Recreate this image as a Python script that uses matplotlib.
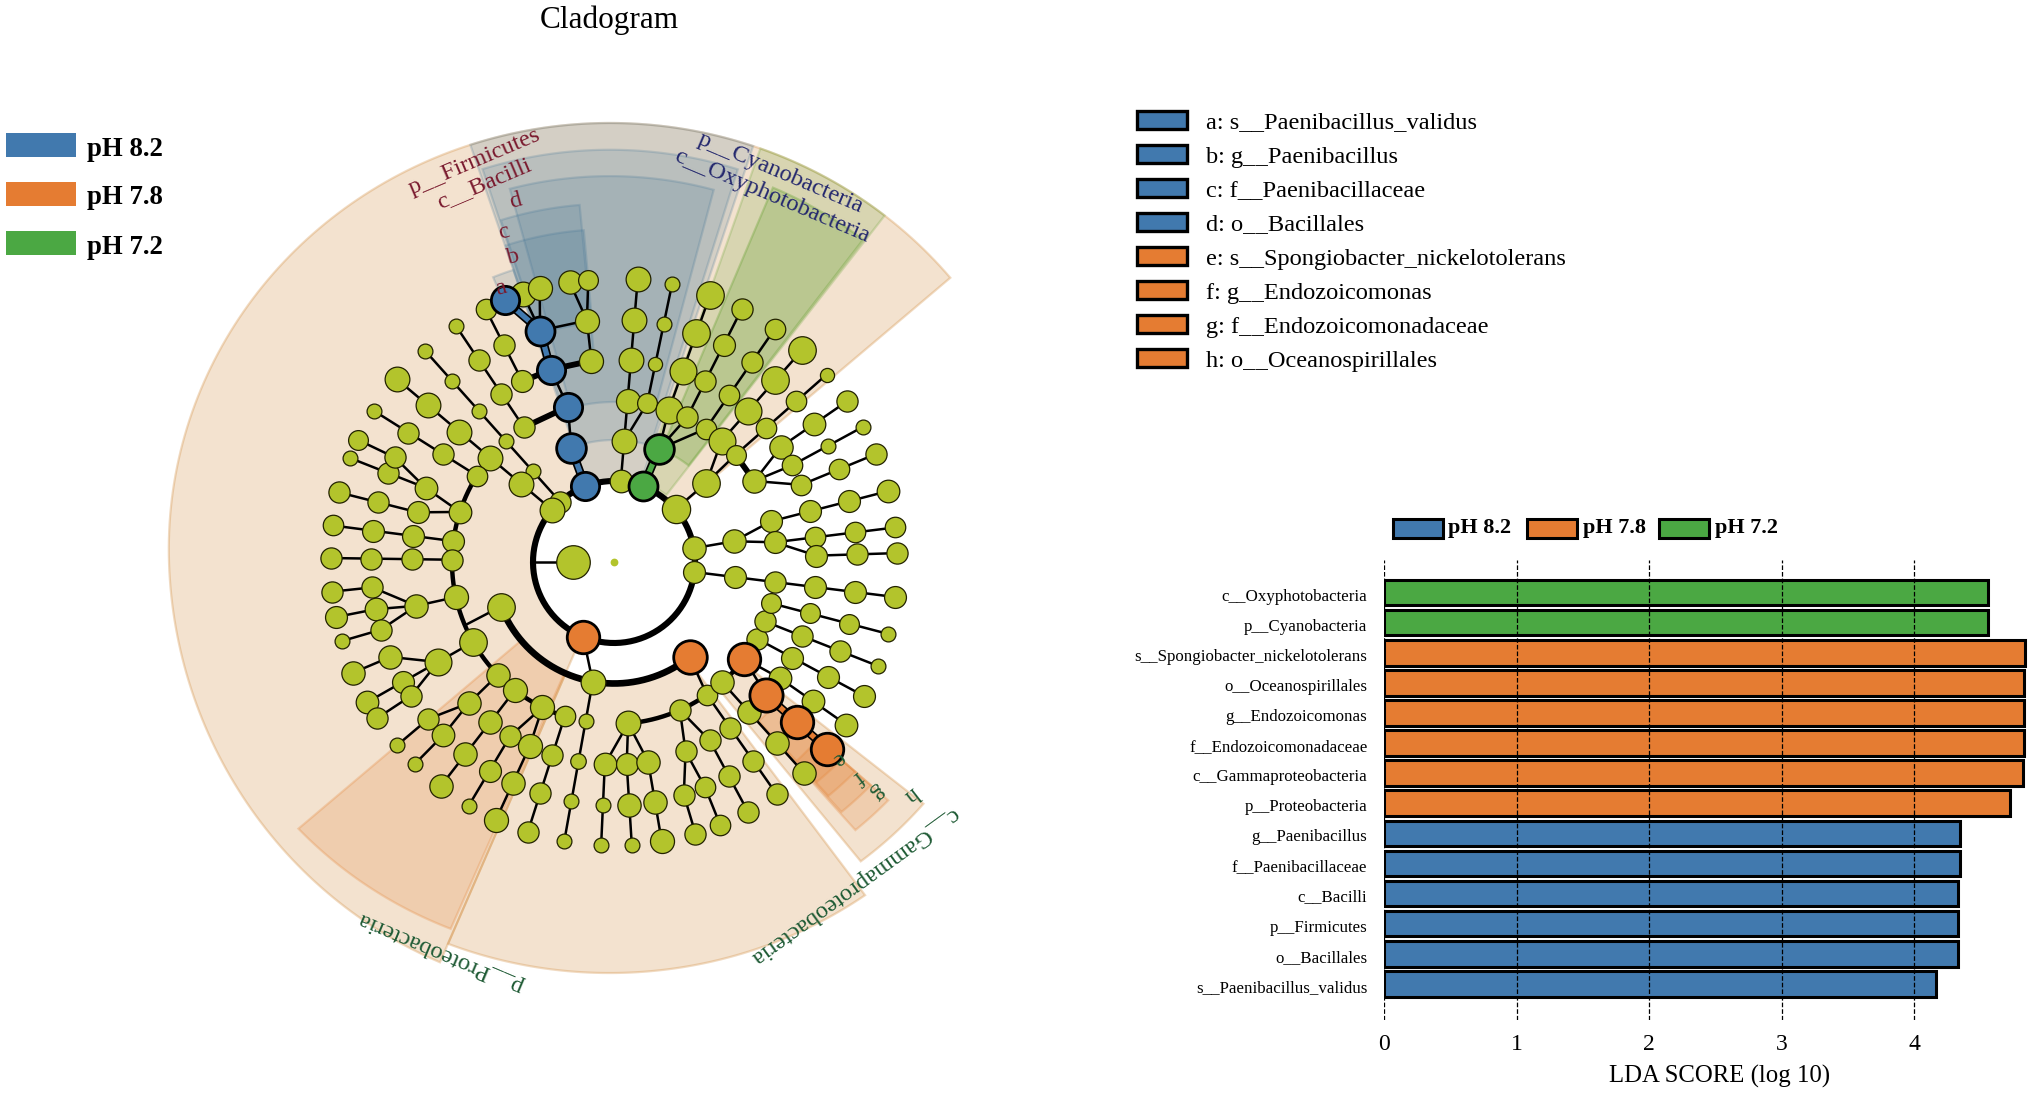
import numpy as np
import matplotlib
matplotlib.use("Agg")
import matplotlib.pyplot as plt
from matplotlib.patches import Polygon, Rectangle
from matplotlib.transforms import ScaledTranslation

plt.rcParams['font.family'] = ['Liberation Serif', 'DejaVu Serif']

BLUE = '#4179AE'
ORANGE = '#E57C32'
GREEN = '#4BA843'
NODE = '#B3C42C'
TAN = '#D38F43'
AMBER = '#E5863A'
SLATE = '#3F7396'

# lda bars, top to bottom
taxa = ['c__Oxyphotobacteria', 'p__Cyanobacteria', 's__Spongiobacter_nickelotolerans',
        'o__Oceanospirillales', 'g__Endozoicomonas', 'f__Endozoicomonadaceae',
        'c__Gammaproteobacteria', 'p__Proteobacteria', 'g__Paenibacillus',
        'f__Paenibacillaceae', 'c__Bacilli', 'p__Firmicutes', 'o__Bacillales',
        's__Paenibacillus_validus']
lda = [4.56, 4.56, 4.835, 4.826, 4.826, 4.826, 4.82, 4.727, 4.35, 4.35, 4.33, 4.33, 4.33, 4.166]
lda_group = [GREEN] * 2 + [ORANGE] * 6 + [BLUE] * 6

groups = ['pH 8.2', 'pH 7.8', 'pH 7.2']
group_colors = [BLUE, ORANGE, GREEN]

key_labels = ['a: s__Paenibacillus_validus', 'b: g__Paenibacillus', 'c: f__Paenibacillaceae',
              'd: o__Bacillales', 'e: s__Spongiobacter_nickelotolerans', 'f: g__Endozoicomonas',
              'g: f__Endozoicomonadaceae', 'h: o__Oceanospirillales']
key_colors = [BLUE] * 4 + [ORANGE] * 4

# spokes: angle, first level, abundance of each node going outwards, parent angle, parent level
top_spokes = [
    (85.2, 1, [64, 70, 68, 70, 70, 70], None, None),
    (78.2, 3, [56, 40, 42, 42], 85.2, 2),
    (70.2, 3, [76, 76, 78, 78], 68.3, 2),
    (63.2, 3, [60, 60, 62, 60], 68.3, 2),
    (55.4, 3, [58, 58, 60, 58], 68.3, 2),
    (48.4, 3, [76, 76, 78, 78], 40.6, 2),
    (41.4, 3, [56, 58, 58, 40], 40.6, 2),
    (40.6, 1, [80, 78], None, None),
    (96.4, 4, [68, 68], None, None),
    (99.0, 6, [66], 96.4, 5),
    (95.2, 6, [56], 96.4, 5),
    (108.8, 6, [70], 107.7, 5),
    (105.2, 6, [68], 107.7, 5),
    (116.9, 4, [62, 60, 58], None, None),
    (123.8, 3, [60, 60, 60, 42], None, None),
    (131.8, 1, [60, 42, 42, 42, 42, 42], None, None),
    (139.9, 1, [70, 70, 70, 70, 70, 70], None, None),
]
left_spokes = [
    (147.8, 3, [58, 60, 60, 42], None, None),
    (162.0, 3, [64], None, None),
    (158.5, 4, [64, 60, 42], 162.0, 3),
    (154.5, 5, [60, 56], 158.5, 4),
    (165.8, 4, [62, 60, 60], 162.0, 3),
    (172.6, 3, [62, 62, 62, 58], None, None),
    (179.2, 3, [60, 60, 60, 60], None, None),
    (192.5, 3, [68, 66], None, None),
    (186.0, 5, [60, 60], 192.5, 4),
    (191.2, 5, [64, 62], 192.5, 4),
    (196.2, 5, [60, 42], 192.5, 4),
    (201.5, 2, [78], None, None),
    (209.6, 3, [78, 76, 62, 64], None, None),
    (203.0, 5, [66, 66], 209.6, 4),
    (213.4, 5, [60, 60], 209.6, 4),
]
bottom_spokes = [
    (224.2, 3, [66, 66], None, None),
    (220.2, 5, [60, 42], 224.2, 4),
    (225.4, 5, [64, 42], 224.2, 4),
    (232.3, 3, [68, 66, 66, 66], None, None),
    (243.8, 3, [68], None, None),
    (239.2, 4, [60, 62, 42], 243.8, 3),
    (245.4, 4, [68, 66, 68], 243.8, 3),
    (252.3, 3, [58, 60, 60, 60], None, None),
    (259.9, 2, [70, 42, 44, 42, 42], None, None),
    (275.0, 3, [70], None, None),
    (267.4, 4, [64, 42, 42], 275.0, 3),
    (273.6, 4, [62, 66, 42], 275.0, 3),
    (279.7, 4, [66, 66, 68], 275.0, 3),
]
right_spokes = [
    (294.0, 3, [60], None, None),
    (290.7, 4, [60], 294.0, 3),
    (292.0, 5, [58, 58], 290.7, 4),
    (286.7, 5, [60, 60], 290.7, 4),
    (298.2, 4, [60, 60, 60], 294.0, 3),
    (305.0, 3, [58, 60, 60, 60], 308.5, 2),
    (312.0, 3, [66, 66, 66, 66], None, None),
    (325.0, 4, [64, 64, 64], 323.4, 3),
    (331.8, 3, [60, 62, 62, 62], None, None),
    (338.5, 3, [60, 60, 60, 42], None, None),
    (345.3, 3, [56, 56, 56, 42], None, None),
    (352.9, 1, [62, 62, 60, 62, 62, 62], None, None),
    (9.8, 1, [66, 66], None, None),
    (14.5, 3, [62, 62, 62, 64], 9.8, 2),
    (7.0, 3, [62, 58, 58, 58], 9.8, 2),
    (1.8, 4, [62, 60, 60], 7.0, 3),
    (30.0, 3, [66], None, None),
    (34.6, 4, [66, 64, 60], 30.0, 3),
    (28.5, 4, [58, 42, 42], 30.0, 3),
    (22.4, 4, [58, 58, 60], 30.0, 3),
]

# biomarker nodes: angle, level, abundance
blue_nodes = [(110.8, 1, 80), (110.6, 2, 84), (106.5, 3, 80), (108.2, 4, 80), (107.7, 5, 82), (112.6, 6, 80)]
green_nodes = [(68.9, 1, 82), (68.3, 2, 84)]
orange_nodes = [(247.7, 1, 92), (308.5, 2, 95), (323.4, 3, 92), (318.8, 4, 94), (318.8, 5, 92), (318.8, 6, 92)]

# thick black links between nodes: angle a, level a, angle b, level b
thick_links = [(106.5, 3, 123.8, 3), (108.2, 4, 116.9, 4), (108.2, 4, 96.4, 4), (41.4, 3, 30.0, 3)]
thin_links = [(110.6, 2, 106.5, 3), (106.5, 3, 108.2, 4), (107.7, 5, 96.4, 5),
              (201.5, 2, 203.0, 3), (259.9, 2, 247.7, 1), (323.4, 3, 318.8, 4)]
# arcs: level, start angle, end angle
tree_arcs = [(1, 0, 360), (2, 201.5, 308.5), (3, 147.8, 252.3), (3, 275.0, 345.3)]

# shaded clades: start angle, end angle, outer fraction, inner radius, colour, alpha
clades = [
    (40.2, 246.5, 1.0, 81, TAN, 0.25),
    (246.5, 307.0, 1.0, 121, TAN, 0.25),
    (309.5, 322.0, 0.93, 165, TAN, 0.25),
    (220.2, 246.0, 0.965, 121, AMBER, 0.22),
    (312.0, 319.0, 0.865, 198, AMBER, 0.22),
    (312.3, 319.0, 0.812, 215, AMBER, 0.22),
    (312.5, 319.0, 0.764, 240, AMBER, 0.22),
    (312.7, 319.0, 0.722, 270, AMBER, 0.22),
    (71.5, 109.0, 1.0, 81, SLATE, 0.17),
    (72.5, 108.5, 0.937, 122, SLATE, 0.17),
    (75.0, 105.6, 0.875, 160, SLATE, 0.17),
    (95.5, 108.3, 0.81, 200, SLATE, 0.17),
    (95.2, 108.9, 0.75, 240, SLATE, 0.17),
    (109.0, 113.0, 0.69, 270, SLATE, 0.17),
    (52.0, 70.5, 1.0, 85, '#6FA53C', 0.2),
    (52.3, 67.0, 0.925, 122, '#6FA53C', 0.28),
]

# tree centre in pixels
CX, CY = 614, 562


def radius(level):
    if level == 0:
        return 41
    return 81 + 40.5 * (level - 1)


def pos(angle, level):
    r = radius(level)
    a = np.radians(angle)
    return CX + r * np.cos(a), CY - r * np.sin(a)


def outer(theta, frac, big):
    # the shaded outline is not quite concentric with the tree
    a = np.radians(theta)
    r = frac * (433 + 8 * np.cos(2 * a)) - 4 * np.cos(a) + 14 * np.sin(a)
    if big:
        r = r + 24 * np.where(np.sin(a) < 0, np.sin(a) ** 2, 0)
    return r


def node_size(abund):
    return (abund / 3 * 0.72 * 1.06) ** 2


fig = plt.figure(figsize=(20.32, 10.94), dpi=100)
ax = fig.add_axes([0, 0, 1, 1])
ax.set_xlim(0, 2032)
ax.set_ylim(1094, 0)
ax.axis('off')

for t1, t2, frac, r_in, col, alpha in clades:
    th = np.linspace(t1, t2, 200)
    a = np.radians(th)
    ro = outer(th, frac, t1 == 40.2)
    xs = np.r_[CX + ro * np.cos(a), CX + r_in * np.cos(a[::-1])]
    ys = np.r_[CY - ro * np.sin(a), CY - r_in * np.sin(a[::-1])]
    ax.add_patch(Polygon(np.c_[xs, ys], closed=True, facecolor=matplotlib.colors.to_rgba(col, alpha),
                         edgecolor=matplotlib.colors.to_rgba(col, alpha * 1.3), lw=1.6, zorder=1))

for level, t1, t2 in tree_arcs:
    th = np.radians(np.linspace(t1, t2, 300))
    r = radius(level)
    lw = {1: 4.4, 2: 4.8, 3: 3.2}[level]
    ax.plot(CX + r * np.cos(th), CY - r * np.sin(th), color='k', lw=lw, zorder=2, solid_capstyle='round')

for a1, l1, a2, l2 in thick_links:
    p, q = pos(a1, l1), pos(a2, l2)
    ax.plot([p[0], q[0]], [p[1], q[1]], color='k', lw=4.2, zorder=2)
for a1, l1, a2, l2 in thin_links:
    p, q = pos(a1, l1), pos(a2, l2)
    ax.plot([p[0], q[0]], [p[1], q[1]], color='k', lw=1.8, zorder=2)

# big node inside the ring and the root
p = pos(180, 0)
q = pos(180, 1)
ax.plot([p[0], q[0]], [p[1], q[1]], color='k', lw=1.8, zorder=2)
ax.scatter([p[0]], [p[1]], s=node_size(95), color=NODE, edgecolor='#222200', lw=0.9, zorder=4)
ax.scatter([CX], [CY], s=node_size(22), color=NODE, lw=0, zorder=4)

for spokes in [top_spokes, left_spokes, bottom_spokes, right_spokes]:
    for angle, first, sizes, p_angle, p_level in spokes:
        pts = [pos(angle, first + i) for i in range(len(sizes))]
        if p_angle is not None:
            pts = [pos(p_angle, p_level)] + pts
        xs, ys = zip(*pts)
        ax.plot(xs, ys, color='k', lw=1.8, zorder=2, solid_capstyle='round')
        for i, s in enumerate(sizes):
            x, y = pos(angle, first + i)
            ax.scatter([x], [y], s=node_size(s), color=NODE, edgecolor='#222200', lw=0.9, zorder=4)

# coloured chains, bars between neighbours where the reference shows them
for nodes, col, bars in [(blue_nodes, BLUE, [(0, 1), (3, 4), (4, 5)]),
                         (green_nodes, GREEN, [(0, 1)]),
                         (orange_nodes, ORANGE, [(3, 4), (4, 5)])]:
    for i, j in bars:
        p = pos(nodes[i][0], nodes[i][1])
        q = pos(nodes[j][0], nodes[j][1])
        ax.plot([p[0], q[0]], [p[1], q[1]], color='k', lw=6.2, zorder=5, solid_capstyle='butt')
        ax.plot([p[0], q[0]], [p[1], q[1]], color=col, lw=3.8, zorder=5, solid_capstyle='butt')
    for angle, level, s in nodes:
        x, y = pos(angle, level)
        ax.scatter([x], [y], s=node_size(s), color=col, edgecolor='k', lw=2.0, zorder=6)

# clade labels
RED = '#7A1A2E'
NAVY = '#24286E'
DGREEN = '#1E5A34'
clade_labels = [
    ('p__Firmicutes', 475, 162, 23, RED, 17.6), ('c__Bacilli', 484, 184, 23, RED, 17.6),
    ('d', 515, 201, 15, RED, 17), ('c', 504, 232, 15, RED, 17), ('b', 513, 257, 15, RED, 17),
    ('a', 501, 288, 15, RED, 17),
    ('p__Cyanobacteria', 781, 173, -23, NAVY, 17.6), ('c__Oxyphotobacteria', 772, 196, -23, NAVY, 17.6),
    ('p__Proteobacteria', 441, 952, 157, DGREEN, 17.6), ('c__Gammaproteobacteria', 854, 886, 216, DGREEN, 17.6),
    ('h', 911, 794, 218, DGREEN, 17), ('g', 877, 793, 218, DGREEN, 17),
    ('f', 858, 777, 218, DGREEN, 17), ('e', 838, 759, 218, DGREEN, 17),
]
for txt, x, y, rot, col, fs in clade_labels:
    ax.text(x, y, txt, rotation=rot, color=col, fontsize=fs, ha='center', va='center',
            rotation_mode='anchor', zorder=7)

ax.text(609, 20, 'Cladogram', fontsize=22.5, ha='center', va='center')

# group key on the far left
for name, col, y in zip(groups, group_colors, [145, 194, 243]):
    ax.add_patch(Rectangle((6, y - 12), 70, 24, facecolor=col, edgecolor='none'))
    ax.text(87, y + 4, name, fontsize=19.3, fontweight='bold', ha='left', va='center')

# taxa key
for i, (txt, col) in enumerate(zip(key_labels, key_colors)):
    y = 120 + 34 * i
    ax.add_patch(Rectangle((1137, y - 9), 50, 18, facecolor=col, edgecolor='k', lw=2.4))
    ax.text(1206, y + 3, txt, fontsize=17.6, ha='left', va='center')

# key above the bars
for name, col, x0, tx in zip(groups, group_colors, [1393, 1527, 1659], [1448, 1583, 1715]):
    ax.add_patch(Rectangle((x0, 519), 50, 19, facecolor=col, edgecolor='k', lw=2.2))
    ax.text(tx, 528, name, fontsize=16, fontweight='bold', ha='left', va='center')

# lda panel
bx = fig.add_axes([1384 / 2032, 1 - 1020 / 1094, (2032 - 1384) / 2032, 460 / 1094])
ypos = np.arange(len(taxa))
bx.barh(ypos, lda, height=0.85, color=lda_group, edgecolor='k', lw=2.2, zorder=2)
bx.set_yticks(ypos)
bx.set_yticklabels(taxa, fontsize=12.2)
bx.set_ylim(14.2, -1.08)
bx.set_xlim(0, 4.89)
bx.set_xticks(range(5))
bx.tick_params(axis='both', length=0)
bx.tick_params(axis='x', labelsize=17, pad=10)
bx.tick_params(axis='y', pad=12)
shift = ScaledTranslation(0, -2 / 100, fig.dpi_scale_trans)
for lab in bx.get_yticklabels():
    lab.set_transform(lab.get_transform() + shift)
for t in range(5):
    bx.axvline(t, color='k', ls='--', lw=0.9, zorder=3)
for s in bx.spines.values():
    s.set_visible(False)
bx.patch.set_alpha(0)
bx.set_xlabel('LDA SCORE (log 10)', fontsize=17.8)
bx.xaxis.set_label_coords((1720 - 1384) / 648, -0.098)

fig.savefig('out.png', dpi=100)
